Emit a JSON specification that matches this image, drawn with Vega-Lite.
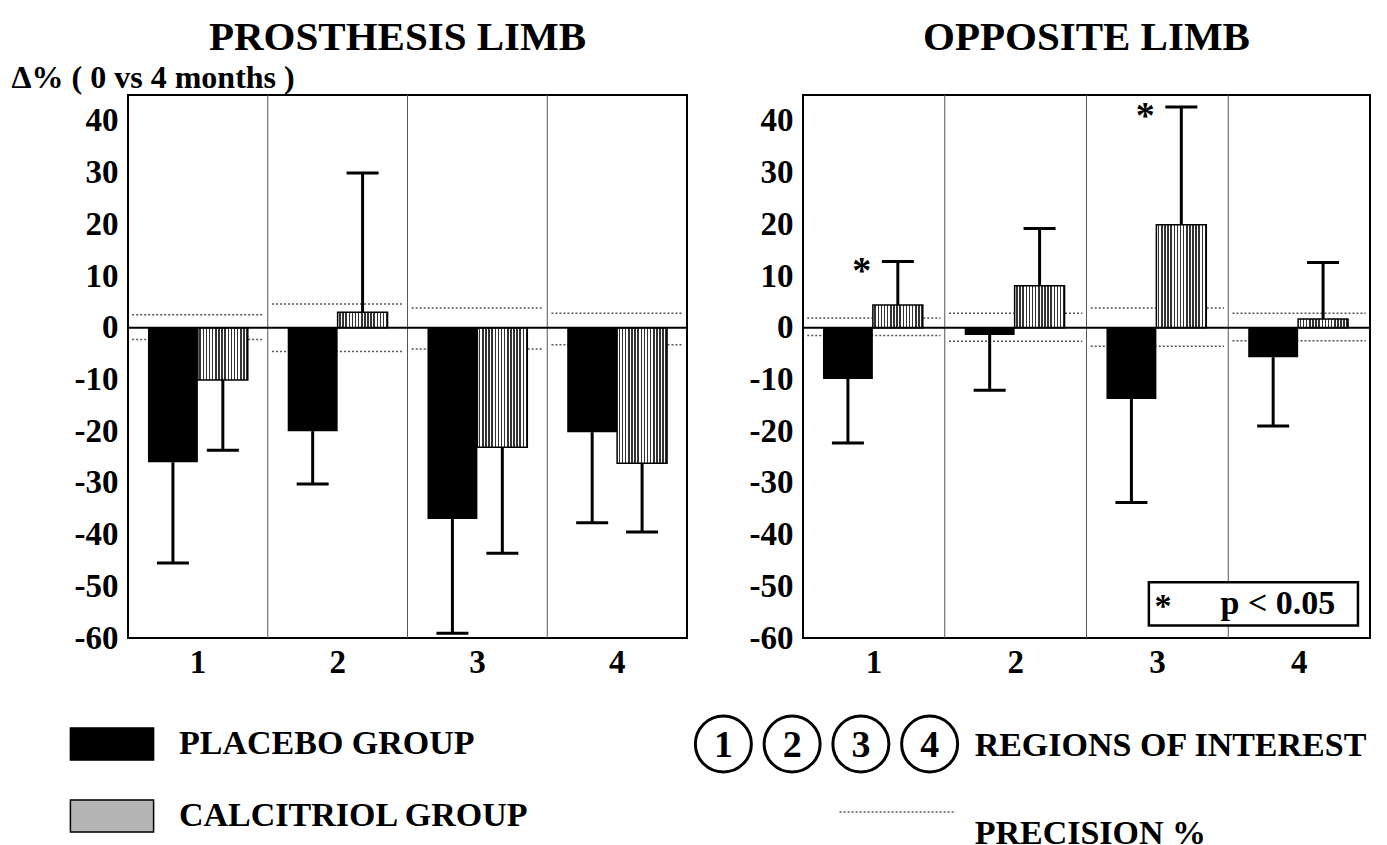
{
  "$schema": "https://vega.github.io/schema/vega-lite/v6.json",
  "autosize": {"type": "pad"},
  "padding": {"left": 10, "top": 15, "right": 5, "bottom": 0},
  "background": "white",
  "config": {
    "font": "Liberation Serif",
    "view": {"stroke": "black", "strokeWidth": 2},
    "axis": {"labelFont": "Liberation Serif", "labelFontSize": 33, "labelFontWeight": "bold", "labelColor": "black", "ticks": false, "tickSize": 0, "domain": false, "grid": false, "titleFont": "Liberation Serif", "titleColor": "black", "labelOverlap": false, "labelBound": false},
    "text": {"font": "Liberation Serif", "fontWeight": "bold", "color": "black"}
  },
  "datasets": {
    "bars": [
      {"limb": "PROSTHESIS LIMB", "region": "1", "group": "PLACEBO GROUP", "value": -26.0, "err": -45.5},
      {"limb": "PROSTHESIS LIMB", "region": "1", "group": "CALCITRIOL GROUP", "value": -10.1, "err": -23.7},
      {"limb": "PROSTHESIS LIMB", "region": "2", "group": "PLACEBO GROUP", "value": -20.0, "err": -30.2},
      {"limb": "PROSTHESIS LIMB", "region": "2", "group": "CALCITRIOL GROUP", "value": 3.0, "err": 29.9},
      {"limb": "PROSTHESIS LIMB", "region": "3", "group": "PLACEBO GROUP", "value": -37.0, "err": -59.1},
      {"limb": "PROSTHESIS LIMB", "region": "3", "group": "CALCITRIOL GROUP", "value": -23.1, "err": -43.6},
      {"limb": "PROSTHESIS LIMB", "region": "4", "group": "PLACEBO GROUP", "value": -20.2, "err": -37.7},
      {"limb": "PROSTHESIS LIMB", "region": "4", "group": "CALCITRIOL GROUP", "value": -26.2, "err": -39.5},
      {"limb": "OPPOSITE LIMB", "region": "1", "group": "PLACEBO GROUP", "value": -9.9, "err": -22.3},
      {"limb": "OPPOSITE LIMB", "region": "1", "group": "CALCITRIOL GROUP", "value": 4.4, "err": 12.8, "sig": "*"},
      {"limb": "OPPOSITE LIMB", "region": "2", "group": "PLACEBO GROUP", "value": -1.4, "err": -12.1},
      {"limb": "OPPOSITE LIMB", "region": "2", "group": "CALCITRIOL GROUP", "value": 8.1, "err": 19.2},
      {"limb": "OPPOSITE LIMB", "region": "3", "group": "PLACEBO GROUP", "value": -13.8, "err": -33.8},
      {"limb": "OPPOSITE LIMB", "region": "3", "group": "CALCITRIOL GROUP", "value": 19.9, "err": 42.7, "sig": "*"},
      {"limb": "OPPOSITE LIMB", "region": "4", "group": "PLACEBO GROUP", "value": -5.7, "err": -19.0},
      {"limb": "OPPOSITE LIMB", "region": "4", "group": "CALCITRIOL GROUP", "value": 1.7, "err": 12.6}
    ],
    "precision": [
      {"limb": "PROSTHESIS LIMB", "region": "1", "bound": "upper", "value": 2.5},
      {"limb": "PROSTHESIS LIMB", "region": "1", "bound": "lower", "value": -2.3},
      {"limb": "PROSTHESIS LIMB", "region": "2", "bound": "upper", "value": 4.6},
      {"limb": "PROSTHESIS LIMB", "region": "2", "bound": "lower", "value": -4.6},
      {"limb": "PROSTHESIS LIMB", "region": "3", "bound": "upper", "value": 3.8},
      {"limb": "PROSTHESIS LIMB", "region": "3", "bound": "lower", "value": -4.1},
      {"limb": "PROSTHESIS LIMB", "region": "4", "bound": "upper", "value": 2.8},
      {"limb": "PROSTHESIS LIMB", "region": "4", "bound": "lower", "value": -3.3},
      {"limb": "OPPOSITE LIMB", "region": "1", "bound": "upper", "value": 1.9},
      {"limb": "OPPOSITE LIMB", "region": "1", "bound": "lower", "value": -1.5},
      {"limb": "OPPOSITE LIMB", "region": "2", "bound": "upper", "value": 2.8},
      {"limb": "OPPOSITE LIMB", "region": "2", "bound": "lower", "value": -2.6},
      {"limb": "OPPOSITE LIMB", "region": "3", "bound": "upper", "value": 3.8},
      {"limb": "OPPOSITE LIMB", "region": "3", "bound": "lower", "value": -3.6},
      {"limb": "OPPOSITE LIMB", "region": "4", "bound": "upper", "value": 2.8},
      {"limb": "OPPOSITE LIMB", "region": "4", "bound": "lower", "value": -2.5}
    ],
    "regions": [{"region": "1"}, {"region": "2"}, {"region": "3"}, {"region": "4"}],
    "zero": [{"zero": 0}],
    "notes": [{"star": "*", "note": "p < 0.05"}],
    "keys": [{"key": "regions", "label": "REGIONS OF INTEREST"}, {"key": "precision", "label": "PRECISION %"}]
  },
  "spacing": 615,
  "bounds": "flush",
  "vconcat": [
    {
      "spacing": 116,
      "bounds": "flush",
      "resolve": {"scale": {"fill": "independent"}, "legend": {"fill": "independent"}},
      "hconcat": [
        {
          "width": 559,
          "height": 543,
          "title": {"text": "PROSTHESIS LIMB", "fontSize": 41, "font": "Liberation Serif", "fontWeight": "bold", "color": "black", "anchor": "middle", "frame": "group", "baseline": "alphabetic", "offset": -30, "dx": -10},
          "layer": [
            {
              "data": {"name": "regions"},
              "transform": [{"filter": "datum.region !== '1'"}],
              "mark": {"type": "rule", "color": "#555", "strokeWidth": 1},
              "encoding": {
                "x": {"field": "region", "type": "nominal", "bandPosition": 0, "scale": {"domain": ["1", "2", "3", "4"], "paddingInner": 0, "paddingOuter": 0}, "axis": {"title": null, "labelAngle": 0, "labelPadding": 8}}
              }
            },
            {
              "data": {"name": "precision"},
              "transform": [{"filter": "datum.limb === 'PROSTHESIS LIMB'"}],
              "mark": {"type": "rule", "color": "#555", "strokeWidth": 1.5, "strokeDash": [2, 2]},
              "encoding": {
                "x": {"field": "region", "type": "nominal", "bandPosition": 0.03, "scale": {"domain": ["1", "2", "3", "4"], "paddingInner": 0, "paddingOuter": 0}, "axis": {"title": null, "labelAngle": 0, "labelPadding": 8}},
                "x2": {"field": "region", "bandPosition": 0.97},
                "y": {"field": "value", "type": "quantitative", "scale": {"domain": [-60, 45], "nice": false, "zero": false}, "axis": {"title": "Δ% ( 0 vs 4 months )", "values": [-60, -50, -40, -30, -20, -10, 0, 10, 20, 30, 40], "labelExpr": "'' + datum.value", "labelPadding": 10, "titleAngle": 0, "titleAlign": "left", "titleBaseline": "alphabetic", "titleX": -117, "titleY": -8, "titleFontSize": 32, "titleFontWeight": "bold"}}
              }
            },
            {
              "data": {"name": "bars"},
              "transform": [{"filter": "datum.limb === 'PROSTHESIS LIMB'"}],
              "mark": {"type": "bar", "opacity": 1},
              "encoding": {
                "x": {"field": "region", "type": "nominal", "scale": {"domain": ["1", "2", "3", "4"], "paddingInner": 0, "paddingOuter": 0}, "axis": {"title": null, "labelAngle": 0, "labelPadding": 8}},
                "xOffset": {"field": "group", "type": "nominal", "scale": {"domain": ["PLACEBO GROUP", "CALCITRIOL GROUP"], "paddingInner": 0, "paddingOuter": 0.4}},
                "y": {"field": "value", "type": "quantitative", "stack": null, "scale": {"domain": [-60, 45], "nice": false, "zero": false}, "axis": {"title": "Δ% ( 0 vs 4 months )", "values": [-60, -50, -40, -30, -20, -10, 0, 10, 20, 30, 40], "labelExpr": "'' + datum.value", "labelPadding": 10, "titleAngle": 0, "titleAlign": "left", "titleBaseline": "alphabetic", "titleX": -117, "titleY": -8, "titleFontSize": 32, "titleFontWeight": "bold"}},
                "y2": {"datum": 0},
                "fill": {"field": "group", "type": "nominal", "scale": {"domain": ["PLACEBO GROUP", "CALCITRIOL GROUP"], "range": ["black", "#b4b4b4"]},
                  "legend": {"orient": "none", "legendX": -33, "legendY": 632, "title": null, "direction": "vertical", "padding": 0, "symbolType": "M-2.6,-1H2.6V1H-2.6Z", "symbolSize": 1024, "symbolStrokeColor": "black", "symbolStrokeWidth": 1.5, "labelFont": "Liberation Serif", "labelFontSize": 34, "labelFontWeight": "bold", "labelColor": "black", "labelOffset": 50, "rowPadding": 34, "labelLimit": 0}
                }
              }
            },
            {
              "data": {"name": "bars"},
              "transform": [{"filter": "datum.limb === 'PROSTHESIS LIMB' && datum.group === 'CALCITRIOL GROUP'"}],
              "mark": {"type": "bar", "opacity": 1, "stroke": "black", "strokeWidth": 1.5, "fill": {"gradient": "linear", "x1": 0, "y1": 0, "x2": 1, "y2": 0, "stops": [{"offset":0,"color":"white"},{"offset":0.03125,"color":"white"},{"offset":0.03125,"color":"#333"},{"offset":0.0625,"color":"#333"},{"offset":0.0625,"color":"white"},{"offset":0.09375,"color":"white"},{"offset":0.09375,"color":"#333"},{"offset":0.125,"color":"#333"},{"offset":0.125,"color":"white"},{"offset":0.15625,"color":"white"},{"offset":0.15625,"color":"#333"},{"offset":0.1875,"color":"#333"},{"offset":0.1875,"color":"white"},{"offset":0.21875,"color":"white"},{"offset":0.21875,"color":"#333"},{"offset":0.25,"color":"#333"},{"offset":0.25,"color":"white"},{"offset":0.28125,"color":"white"},{"offset":0.28125,"color":"#333"},{"offset":0.3125,"color":"#333"},{"offset":0.3125,"color":"white"},{"offset":0.34375,"color":"white"},{"offset":0.34375,"color":"#333"},{"offset":0.375,"color":"#333"},{"offset":0.375,"color":"white"},{"offset":0.40625,"color":"white"},{"offset":0.40625,"color":"#333"},{"offset":0.4375,"color":"#333"},{"offset":0.4375,"color":"white"},{"offset":0.46875,"color":"white"},{"offset":0.46875,"color":"#333"},{"offset":0.5,"color":"#333"},{"offset":0.5,"color":"white"},{"offset":0.53125,"color":"white"},{"offset":0.53125,"color":"#333"},{"offset":0.5625,"color":"#333"},{"offset":0.5625,"color":"white"},{"offset":0.59375,"color":"white"},{"offset":0.59375,"color":"#333"},{"offset":0.625,"color":"#333"},{"offset":0.625,"color":"white"},{"offset":0.65625,"color":"white"},{"offset":0.65625,"color":"#333"},{"offset":0.6875,"color":"#333"},{"offset":0.6875,"color":"white"},{"offset":0.71875,"color":"white"},{"offset":0.71875,"color":"#333"},{"offset":0.75,"color":"#333"},{"offset":0.75,"color":"white"},{"offset":0.78125,"color":"white"},{"offset":0.78125,"color":"#333"},{"offset":0.8125,"color":"#333"},{"offset":0.8125,"color":"white"},{"offset":0.84375,"color":"white"},{"offset":0.84375,"color":"#333"},{"offset":0.875,"color":"#333"},{"offset":0.875,"color":"white"},{"offset":0.90625,"color":"white"},{"offset":0.90625,"color":"#333"},{"offset":0.9375,"color":"#333"},{"offset":0.9375,"color":"white"},{"offset":0.96875,"color":"white"},{"offset":0.96875,"color":"#333"},{"offset":1,"color":"#333"}]}},
              "encoding": {
                "x": {"field": "region", "type": "nominal", "scale": {"domain": ["1", "2", "3", "4"], "paddingInner": 0, "paddingOuter": 0}, "axis": {"title": null, "labelAngle": 0, "labelPadding": 8}},
                "xOffset": {"field": "group", "type": "nominal", "scale": {"domain": ["PLACEBO GROUP", "CALCITRIOL GROUP"], "paddingInner": 0, "paddingOuter": 0.4}},
                "y": {"field": "value", "type": "quantitative", "stack": null, "scale": {"domain": [-60, 45], "nice": false, "zero": false}, "axis": {"title": "Δ% ( 0 vs 4 months )", "values": [-60, -50, -40, -30, -20, -10, 0, 10, 20, 30, 40], "labelExpr": "'' + datum.value", "labelPadding": 10, "titleAngle": 0, "titleAlign": "left", "titleBaseline": "alphabetic", "titleX": -117, "titleY": -8, "titleFontSize": 32, "titleFontWeight": "bold"}},
                "y2": {"datum": 0}
              }
            },
            {
              "data": {"name": "bars"},
              "transform": [{"filter": "datum.limb === 'PROSTHESIS LIMB'"}],
              "mark": {"type": "rule", "color": "black", "strokeWidth": 3},
              "encoding": {
                "x": {"field": "region", "type": "nominal", "scale": {"domain": ["1", "2", "3", "4"], "paddingInner": 0, "paddingOuter": 0}, "axis": {"title": null, "labelAngle": 0, "labelPadding": 8}},
                "xOffset": {"field": "group", "type": "nominal", "scale": {"domain": ["PLACEBO GROUP", "CALCITRIOL GROUP"], "paddingInner": 0, "paddingOuter": 0.4}},
                "y": {"field": "value", "type": "quantitative", "scale": {"domain": [-60, 45], "nice": false, "zero": false}, "axis": {"title": "Δ% ( 0 vs 4 months )", "values": [-60, -50, -40, -30, -20, -10, 0, 10, 20, 30, 40], "labelExpr": "'' + datum.value", "labelPadding": 10, "titleAngle": 0, "titleAlign": "left", "titleBaseline": "alphabetic", "titleX": -117, "titleY": -8, "titleFontSize": 32, "titleFontWeight": "bold"}},
                "y2": {"field": "err"}
              }
            },
            {
              "data": {"name": "bars"},
              "transform": [{"filter": "datum.limb === 'PROSTHESIS LIMB'"}],
              "mark": {"type": "tick", "color": "black", "thickness": 3, "size": 32, "opacity": 1, "orient": "horizontal"},
              "encoding": {
                "x": {"field": "region", "type": "nominal", "scale": {"domain": ["1", "2", "3", "4"], "paddingInner": 0, "paddingOuter": 0}, "axis": {"title": null, "labelAngle": 0, "labelPadding": 8}},
                "xOffset": {"field": "group", "type": "nominal", "scale": {"domain": ["PLACEBO GROUP", "CALCITRIOL GROUP"], "paddingInner": 0, "paddingOuter": 0.4}},
                "y": {"field": "err", "type": "quantitative", "scale": {"domain": [-60, 45], "nice": false, "zero": false}, "axis": {"title": "Δ% ( 0 vs 4 months )", "values": [-60, -50, -40, -30, -20, -10, 0, 10, 20, 30, 40], "labelExpr": "'' + datum.value", "labelPadding": 10, "titleAngle": 0, "titleAlign": "left", "titleBaseline": "alphabetic", "titleX": -117, "titleY": -8, "titleFontSize": 32, "titleFontWeight": "bold"}}
              }
            },
            {
              "data": {"name": "zero"},
              "mark": {"type": "rule", "color": "black", "strokeWidth": 2},
              "encoding": {
                "y": {"field": "zero", "type": "quantitative", "scale": {"domain": [-60, 45], "nice": false, "zero": false}, "axis": {"title": "Δ% ( 0 vs 4 months )", "values": [-60, -50, -40, -30, -20, -10, 0, 10, 20, 30, 40], "labelExpr": "'' + datum.value", "labelPadding": 10, "titleAngle": 0, "titleAlign": "left", "titleBaseline": "alphabetic", "titleX": -117, "titleY": -8, "titleFontSize": 32, "titleFontWeight": "bold"}}
              }
            }
          ]
        },
        {
          "width": 567,
          "height": 543,
          "title": {"text": "OPPOSITE LIMB", "fontSize": 41, "font": "Liberation Serif", "fontWeight": "bold", "color": "black", "anchor": "middle", "frame": "group", "baseline": "alphabetic", "offset": 4},
          "layer": [
            {
              "data": {"name": "regions"},
              "transform": [{"filter": "datum.region !== '1'"}],
              "mark": {"type": "rule", "color": "#555", "strokeWidth": 1},
              "encoding": {
                "x": {"field": "region", "type": "nominal", "bandPosition": 0, "scale": {"domain": ["1", "2", "3", "4"], "paddingInner": 0, "paddingOuter": 0}, "axis": {"title": null, "labelAngle": 0, "labelPadding": 8}}
              }
            },
            {
              "data": {"name": "precision"},
              "transform": [{"filter": "datum.limb === 'OPPOSITE LIMB'"}],
              "mark": {"type": "rule", "color": "#555", "strokeWidth": 1.5, "strokeDash": [2, 2]},
              "encoding": {
                "x": {"field": "region", "type": "nominal", "bandPosition": 0.03, "scale": {"domain": ["1", "2", "3", "4"], "paddingInner": 0, "paddingOuter": 0}, "axis": {"title": null, "labelAngle": 0, "labelPadding": 8}},
                "x2": {"field": "region", "bandPosition": 0.97},
                "y": {"field": "value", "type": "quantitative", "scale": {"domain": [-60, 45], "nice": false, "zero": false}, "axis": {"title": null, "values": [-60, -50, -40, -30, -20, -10, 0, 10, 20, 30, 40], "labelExpr": "'' + datum.value", "labelPadding": 10}}
              }
            },
            {
              "data": {"name": "bars"},
              "transform": [{"filter": "datum.limb === 'OPPOSITE LIMB'"}],
              "mark": {"type": "bar", "opacity": 1},
              "encoding": {
                "x": {"field": "region", "type": "nominal", "scale": {"domain": ["1", "2", "3", "4"], "paddingInner": 0, "paddingOuter": 0}, "axis": {"title": null, "labelAngle": 0, "labelPadding": 8}},
                "xOffset": {"field": "group", "type": "nominal", "scale": {"domain": ["PLACEBO GROUP", "CALCITRIOL GROUP"], "paddingInner": 0, "paddingOuter": 0.4}},
                "y": {"field": "value", "type": "quantitative", "stack": null, "scale": {"domain": [-60, 45], "nice": false, "zero": false}, "axis": {"title": null, "values": [-60, -50, -40, -30, -20, -10, 0, 10, 20, 30, 40], "labelExpr": "'' + datum.value", "labelPadding": 10}},
                "y2": {"datum": 0},
                "fill": {"field": "group", "type": "nominal", "scale": {"domain": ["PLACEBO GROUP", "CALCITRIOL GROUP"], "range": ["black", "#b4b4b4"]}, "legend": null}
              }
            },
            {
              "data": {"name": "bars"},
              "transform": [{"filter": "datum.limb === 'OPPOSITE LIMB' && datum.group === 'CALCITRIOL GROUP'"}],
              "mark": {"type": "bar", "opacity": 1, "stroke": "black", "strokeWidth": 1.5, "fill": {"gradient": "linear", "x1": 0, "y1": 0, "x2": 1, "y2": 0, "stops": [{"offset":0,"color":"white"},{"offset":0.03125,"color":"white"},{"offset":0.03125,"color":"#333"},{"offset":0.0625,"color":"#333"},{"offset":0.0625,"color":"white"},{"offset":0.09375,"color":"white"},{"offset":0.09375,"color":"#333"},{"offset":0.125,"color":"#333"},{"offset":0.125,"color":"white"},{"offset":0.15625,"color":"white"},{"offset":0.15625,"color":"#333"},{"offset":0.1875,"color":"#333"},{"offset":0.1875,"color":"white"},{"offset":0.21875,"color":"white"},{"offset":0.21875,"color":"#333"},{"offset":0.25,"color":"#333"},{"offset":0.25,"color":"white"},{"offset":0.28125,"color":"white"},{"offset":0.28125,"color":"#333"},{"offset":0.3125,"color":"#333"},{"offset":0.3125,"color":"white"},{"offset":0.34375,"color":"white"},{"offset":0.34375,"color":"#333"},{"offset":0.375,"color":"#333"},{"offset":0.375,"color":"white"},{"offset":0.40625,"color":"white"},{"offset":0.40625,"color":"#333"},{"offset":0.4375,"color":"#333"},{"offset":0.4375,"color":"white"},{"offset":0.46875,"color":"white"},{"offset":0.46875,"color":"#333"},{"offset":0.5,"color":"#333"},{"offset":0.5,"color":"white"},{"offset":0.53125,"color":"white"},{"offset":0.53125,"color":"#333"},{"offset":0.5625,"color":"#333"},{"offset":0.5625,"color":"white"},{"offset":0.59375,"color":"white"},{"offset":0.59375,"color":"#333"},{"offset":0.625,"color":"#333"},{"offset":0.625,"color":"white"},{"offset":0.65625,"color":"white"},{"offset":0.65625,"color":"#333"},{"offset":0.6875,"color":"#333"},{"offset":0.6875,"color":"white"},{"offset":0.71875,"color":"white"},{"offset":0.71875,"color":"#333"},{"offset":0.75,"color":"#333"},{"offset":0.75,"color":"white"},{"offset":0.78125,"color":"white"},{"offset":0.78125,"color":"#333"},{"offset":0.8125,"color":"#333"},{"offset":0.8125,"color":"white"},{"offset":0.84375,"color":"white"},{"offset":0.84375,"color":"#333"},{"offset":0.875,"color":"#333"},{"offset":0.875,"color":"white"},{"offset":0.90625,"color":"white"},{"offset":0.90625,"color":"#333"},{"offset":0.9375,"color":"#333"},{"offset":0.9375,"color":"white"},{"offset":0.96875,"color":"white"},{"offset":0.96875,"color":"#333"},{"offset":1,"color":"#333"}]}},
              "encoding": {
                "x": {"field": "region", "type": "nominal", "scale": {"domain": ["1", "2", "3", "4"], "paddingInner": 0, "paddingOuter": 0}, "axis": {"title": null, "labelAngle": 0, "labelPadding": 8}},
                "xOffset": {"field": "group", "type": "nominal", "scale": {"domain": ["PLACEBO GROUP", "CALCITRIOL GROUP"], "paddingInner": 0, "paddingOuter": 0.4}},
                "y": {"field": "value", "type": "quantitative", "stack": null, "scale": {"domain": [-60, 45], "nice": false, "zero": false}, "axis": {"title": null, "values": [-60, -50, -40, -30, -20, -10, 0, 10, 20, 30, 40], "labelExpr": "'' + datum.value", "labelPadding": 10}},
                "y2": {"datum": 0}
              }
            },
            {
              "data": {"name": "bars"},
              "transform": [{"filter": "datum.limb === 'OPPOSITE LIMB'"}],
              "mark": {"type": "rule", "color": "black", "strokeWidth": 3},
              "encoding": {
                "x": {"field": "region", "type": "nominal", "scale": {"domain": ["1", "2", "3", "4"], "paddingInner": 0, "paddingOuter": 0}, "axis": {"title": null, "labelAngle": 0, "labelPadding": 8}},
                "xOffset": {"field": "group", "type": "nominal", "scale": {"domain": ["PLACEBO GROUP", "CALCITRIOL GROUP"], "paddingInner": 0, "paddingOuter": 0.4}},
                "y": {"field": "value", "type": "quantitative", "scale": {"domain": [-60, 45], "nice": false, "zero": false}, "axis": {"title": null, "values": [-60, -50, -40, -30, -20, -10, 0, 10, 20, 30, 40], "labelExpr": "'' + datum.value", "labelPadding": 10}},
                "y2": {"field": "err"}
              }
            },
            {
              "data": {"name": "bars"},
              "transform": [{"filter": "datum.limb === 'OPPOSITE LIMB'"}],
              "mark": {"type": "tick", "color": "black", "thickness": 3, "size": 32, "opacity": 1, "orient": "horizontal"},
              "encoding": {
                "x": {"field": "region", "type": "nominal", "scale": {"domain": ["1", "2", "3", "4"], "paddingInner": 0, "paddingOuter": 0}, "axis": {"title": null, "labelAngle": 0, "labelPadding": 8}},
                "xOffset": {"field": "group", "type": "nominal", "scale": {"domain": ["PLACEBO GROUP", "CALCITRIOL GROUP"], "paddingInner": 0, "paddingOuter": 0.4}},
                "y": {"field": "err", "type": "quantitative", "scale": {"domain": [-60, 45], "nice": false, "zero": false}, "axis": {"title": null, "values": [-60, -50, -40, -30, -20, -10, 0, 10, 20, 30, 40], "labelExpr": "'' + datum.value", "labelPadding": 10}}
              }
            },
            {
              "data": {"name": "bars"},
              "transform": [{"filter": "datum.limb === 'OPPOSITE LIMB' && datum.sig"}],
              "mark": {"type": "text", "fontSize": 38, "fontWeight": "bold", "baseline": "middle", "align": "center", "dx": -36, "dy": 10},
              "encoding": {
                "x": {"field": "region", "type": "nominal", "scale": {"domain": ["1", "2", "3", "4"], "paddingInner": 0, "paddingOuter": 0}, "axis": {"title": null, "labelAngle": 0, "labelPadding": 8}},
                "xOffset": {"field": "group", "type": "nominal", "scale": {"domain": ["PLACEBO GROUP", "CALCITRIOL GROUP"], "paddingInner": 0, "paddingOuter": 0.4}},
                "y": {"field": "err", "type": "quantitative", "scale": {"domain": [-60, 45], "nice": false, "zero": false}, "axis": {"title": null, "values": [-60, -50, -40, -30, -20, -10, 0, 10, 20, 30, 40], "labelExpr": "'' + datum.value", "labelPadding": 10}},
                "text": {"field": "sig"}
              }
            },
            {
              "data": {"name": "zero"},
              "mark": {"type": "rule", "color": "black", "strokeWidth": 2},
              "encoding": {
                "y": {"field": "zero", "type": "quantitative", "scale": {"domain": [-60, 45], "nice": false, "zero": false}, "axis": {"title": null, "values": [-60, -50, -40, -30, -20, -10, 0, 10, 20, 30, 40], "labelExpr": "'' + datum.value", "labelPadding": 10}}
              }
            },
            {
              "data": {"name": "notes"},
              "mark": {"type": "rect", "fill": "white", "stroke": "black", "strokeWidth": 2.5, "opacity": 1},
              "encoding": {
                "x": {"datum": "3", "type": "nominal", "bandPosition": 0.44, "scale": {"domain": ["1", "2", "3", "4"], "paddingInner": 0, "paddingOuter": 0}, "axis": {"title": null, "labelAngle": 0, "labelPadding": 8}},
                "x2": {"datum": "4", "bandPosition": 0.915},
                "y": {"datum": -49.2, "type": "quantitative", "scale": {"domain": [-60, 45], "nice": false, "zero": false}, "axis": {"title": null, "values": [-60, -50, -40, -30, -20, -10, 0, 10, 20, 30, 40], "labelExpr": "'' + datum.value", "labelPadding": 10}},
                "y2": {"datum": -57.6}
              }
            },
            {
              "data": {"name": "notes"},
              "mark": {"type": "text", "fontSize": 34, "fontWeight": "bold", "baseline": "middle", "align": "center", "dy": 3},
              "encoding": {
                "x": {"datum": "3", "type": "nominal", "bandPosition": 0.54, "scale": {"domain": ["1", "2", "3", "4"], "paddingInner": 0, "paddingOuter": 0}, "axis": {"title": null, "labelAngle": 0, "labelPadding": 8}},
                "y": {"datum": -53.4, "type": "quantitative", "scale": {"domain": [-60, 45], "nice": false, "zero": false}, "axis": {"title": null, "values": [-60, -50, -40, -30, -20, -10, 0, 10, 20, 30, 40], "labelExpr": "'' + datum.value", "labelPadding": 10}},
                "text": {"field": "star"}
              }
            },
            {
              "data": {"name": "notes"},
              "mark": {"type": "text", "fontSize": 34, "fontWeight": "bold", "baseline": "middle", "align": "center"},
              "encoding": {
                "x": {"datum": "4", "type": "nominal", "bandPosition": 0.35, "scale": {"domain": ["1", "2", "3", "4"], "paddingInner": 0, "paddingOuter": 0}, "axis": {"title": null, "labelAngle": 0, "labelPadding": 8}},
                "y": {"datum": -53.4, "type": "quantitative", "scale": {"domain": [-60, 45], "nice": false, "zero": false}, "axis": {"title": null, "values": [-60, -50, -40, -30, -20, -10, 0, 10, 20, 30, 40], "labelExpr": "'' + datum.value", "labelPadding": 10}},
                "text": {"field": "note"}
              }
            }
          ]
        }
      ]
    },
    {
      "width": 1242,
      "height": 136,
      "view": {"stroke": null},
      "layer": [
        {
          "data": {"name": "regions"},
          "mark": {"type": "point", "shape": "circle", "size": 3136, "filled": false, "color": "black", "strokeWidth": 3, "opacity": 1},
          "encoding": {
            "x": {"field": "region", "type": "nominal", "scale": {"domain": ["1", "2", "3", "4"], "range": [561, 836], "paddingInner": 0, "paddingOuter": 0}, "axis": null},
            "y": {"datum": "a", "type": "nominal", "scale": {"domain": ["a", "b"], "paddingInner": 0, "paddingOuter": 0}, "axis": null}
          }
        },
        {
          "data": {"name": "regions"},
          "mark": {"type": "text", "fontSize": 38, "fontWeight": "bold", "baseline": "middle", "align": "center", "dy": 2},
          "encoding": {
            "x": {"field": "region", "type": "nominal", "scale": {"domain": ["1", "2", "3", "4"], "range": [561, 836], "paddingInner": 0, "paddingOuter": 0}, "axis": null},
            "y": {"datum": "a", "type": "nominal", "scale": {"domain": ["a", "b"], "paddingInner": 0, "paddingOuter": 0}, "axis": null},
            "text": {"field": "region"}
          }
        },
        {
          "data": {"name": "keys"},
          "transform": [{"filter": "datum.key === 'regions'"}],
          "mark": {"type": "text", "fontSize": 34, "fontWeight": "bold", "baseline": "middle", "align": "left", "dx": 45, "dy": 2},
          "encoding": {
            "x": {"datum": "4", "type": "nominal", "scale": {"domain": ["1", "2", "3", "4"], "range": [561, 836], "paddingInner": 0, "paddingOuter": 0}, "axis": null},
            "y": {"datum": "a", "type": "nominal", "scale": {"domain": ["a", "b"], "paddingInner": 0, "paddingOuter": 0}, "axis": null},
            "text": {"field": "label"}
          }
        },
        {
          "data": {"name": "keys"},
          "transform": [{"filter": "datum.key === 'precision'"}],
          "mark": {"type": "rule", "color": "#555", "strokeWidth": 1.5, "strokeDash": [2, 2]},
          "encoding": {
            "x": {"datum": "3", "type": "nominal", "bandPosition": 0.19, "scale": {"domain": ["1", "2", "3", "4"], "range": [561, 836], "paddingInner": 0, "paddingOuter": 0}, "axis": null},
            "x2": {"datum": "4", "bandPosition": 0.88},
            "y": {"datum": "b", "type": "nominal", "scale": {"domain": ["a", "b"], "paddingInner": 0, "paddingOuter": 0}, "axis": null}
          }
        },
        {
          "data": {"name": "keys"},
          "transform": [{"filter": "datum.key === 'precision'"}],
          "mark": {"type": "text", "fontSize": 34, "fontWeight": "bold", "baseline": "middle", "align": "left", "dx": 45, "dy": 22},
          "encoding": {
            "x": {"datum": "4", "type": "nominal", "scale": {"domain": ["1", "2", "3", "4"], "range": [561, 836], "paddingInner": 0, "paddingOuter": 0}, "axis": null},
            "y": {"datum": "b", "type": "nominal", "scale": {"domain": ["a", "b"], "paddingInner": 0, "paddingOuter": 0}, "axis": null},
            "text": {"field": "label"}
          }
        }
      ]
    }
  ]
}
